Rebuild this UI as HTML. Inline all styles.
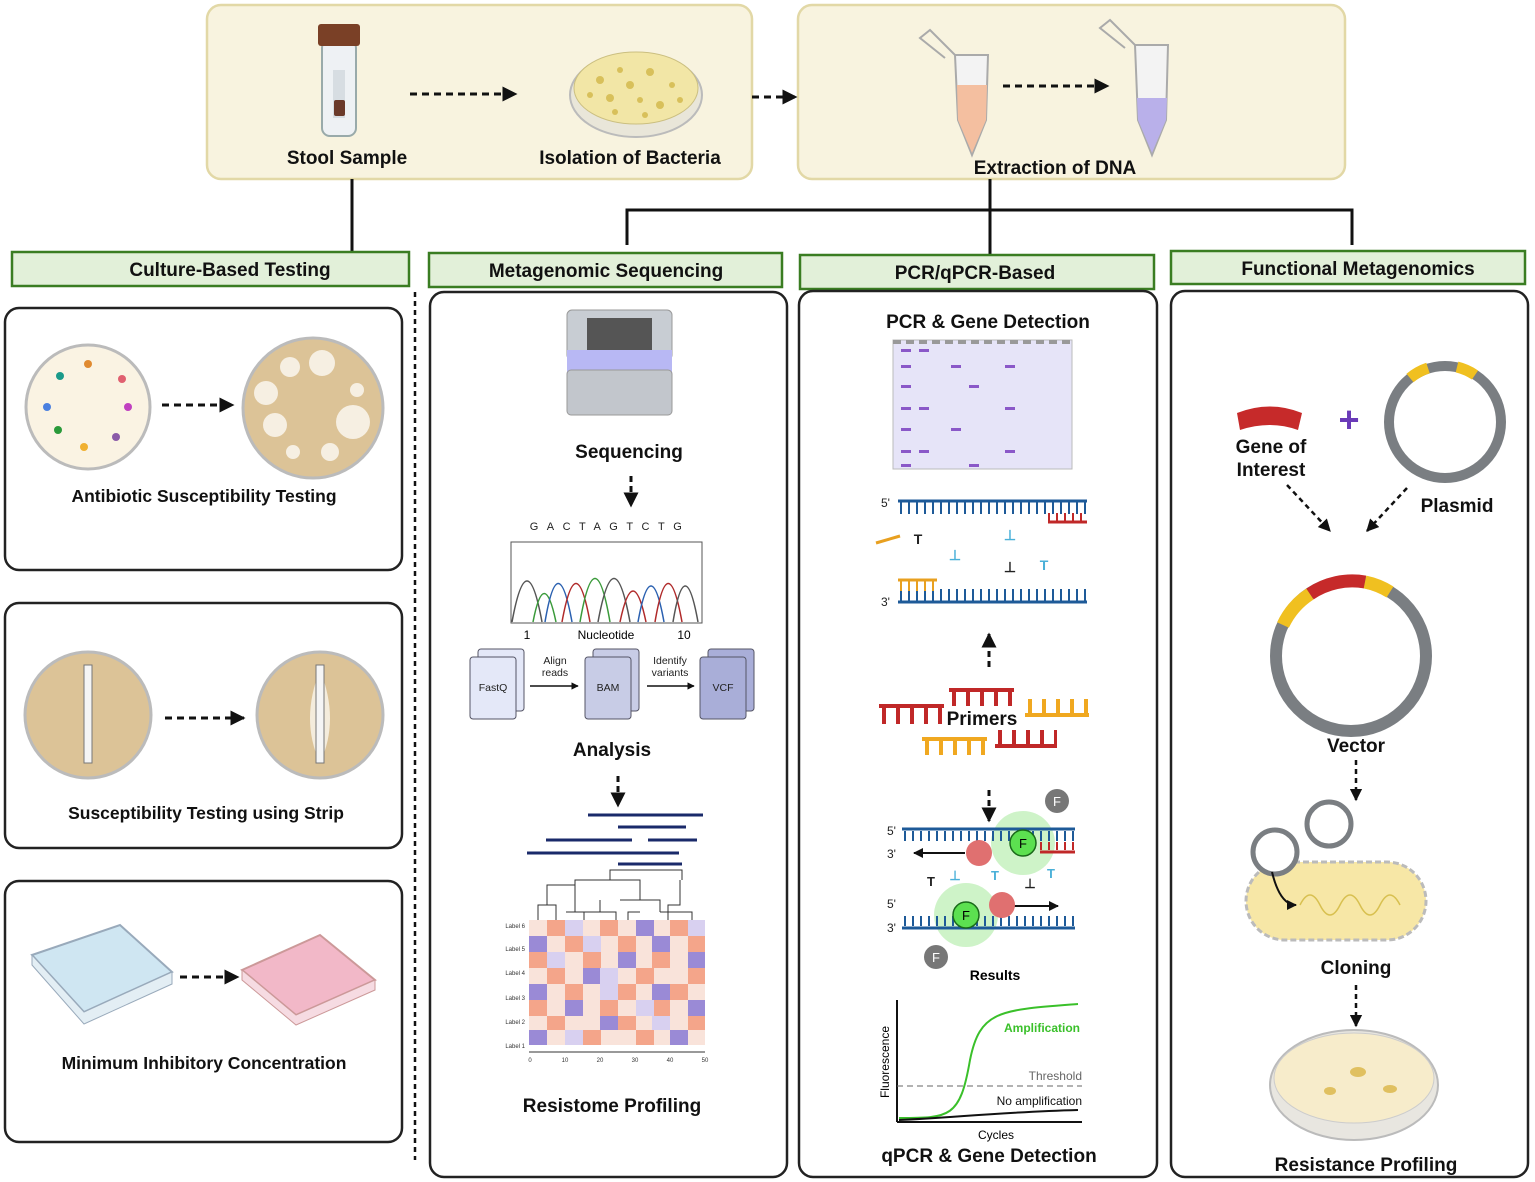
<!DOCTYPE html>
<html><head><meta charset="utf-8"><style>
html,body{margin:0;padding:0;background:#fff}
svg{display:block}
text{font-family:"Liberation Sans",Arial,sans-serif}
.b{font-weight:bold;fill:#111}
</style></head><body>
<svg width="1535" height="1182" viewBox="0 0 1535 1182" xmlns="http://www.w3.org/2000/svg">
<defs>
<marker id="ah" viewBox="0 0 10 10" refX="9" refY="5" markerWidth="5" markerHeight="5" orient="auto"><path d="M0,0L10,5L0,10z" fill="#111"/></marker>
</defs>
<!-- top boxes -->
<rect x="207" y="5" width="545" height="174" rx="14" fill="#f8f3df" stroke="#e2d8a6" stroke-width="2.5"/>
<rect x="798" y="5" width="547" height="174" rx="14" fill="#f8f3df" stroke="#e2d8a6" stroke-width="2.5"/>
<!-- stool tube -->
<rect x="322" y="40" width="34" height="96" rx="8" fill="#eef1f4" stroke="#9aa" stroke-width="2"/>
<rect x="318" y="24" width="42" height="22" rx="3" fill="#7a4026"/>
<rect x="333" y="70" width="12" height="48" fill="#d7dde2"/>
<rect x="334" y="100" width="11" height="16" rx="2" fill="#6b3a2a"/>
<text x="347" y="164" class="b" font-size="19" text-anchor="middle">Stool Sample</text>
<line x1="410" y1="94" x2="516" y2="94" stroke="#111" stroke-width="3" stroke-dasharray="7 5" marker-end="url(#ah)"/>
<!-- petri -->
<ellipse cx="636" cy="95" rx="66" ry="42" fill="#e9e6d9" stroke="#bbb" stroke-width="2"/>
<ellipse cx="636" cy="88" rx="62" ry="36" fill="#f2e6a6" stroke="#cbbf80"/>
<g fill="#d8c05a"><circle cx="600" cy="80" r="4"/><circle cx="620" cy="70" r="3"/><circle cx="650" cy="72" r="4"/><circle cx="672" cy="85" r="3"/><circle cx="610" cy="98" r="4"/><circle cx="640" cy="100" r="3"/><circle cx="660" cy="105" r="4"/><circle cx="590" cy="95" r="3"/><circle cx="630" cy="85" r="4"/><circle cx="680" cy="100" r="3"/><circle cx="615" cy="112" r="3"/><circle cx="645" cy="115" r="3"/></g>
<text x="630" y="164" class="b" font-size="19" text-anchor="middle">Isolation of Bacteria</text>
<line x1="752" y1="97" x2="796" y2="97" stroke="#111" stroke-width="3" stroke-dasharray="7 5" marker-end="url(#ah)"/>
<!-- tubes -->
<path d="M955,55 L988,55 L986,120 L972,155 L958,120 Z" fill="#f3f3f3" stroke="#aaa" stroke-width="2"/>
<path d="M957,85 L987,85 L986,120 L972,153 L958,120 Z" fill="#f4bfa0"/>
<path d="M955,55 L930,30 L920,38 L945,58" fill="none" stroke="#aaa" stroke-width="2"/>
<line x1="1003" y1="86" x2="1108" y2="86" stroke="#111" stroke-width="3" stroke-dasharray="7 5" marker-end="url(#ah)"/>
<path d="M1135,45 L1168,45 L1166,120 L1152,155 L1138,120 Z" fill="#f3f3f3" stroke="#aaa" stroke-width="2"/>
<path d="M1137,98 L1167,98 L1166,120 L1152,153 L1138,120 Z" fill="#b9b0ea"/>
<path d="M1135,45 L1110,20 L1100,28 L1125,48" fill="none" stroke="#aaa" stroke-width="2"/>
<text x="1055" y="174" class="b" font-size="19" text-anchor="middle">Extraction of DNA</text>
<!-- connectors -->
<g stroke="#111" stroke-width="3" fill="none">
<line x1="352" y1="179" x2="352" y2="252"/>
<line x1="990" y1="179" x2="990" y2="255"/>
<polyline points="627,245 627,210 1352,210 1352,245"/>
</g>
<!-- headers -->
<g fill="#e2f0d9" stroke="#3a7d22" stroke-width="2.5">
<rect x="12" y="252" width="397" height="34"/>
<rect x="429" y="253" width="353" height="34"/>
<rect x="800" y="255" width="354" height="34"/>
<rect x="1171" y="251" width="354" height="33"/>
</g>
<g class="b" font-size="19" text-anchor="middle">
<text x="230" y="276" class="b">Culture-Based Testing</text>
<text x="606" y="277" class="b">Metagenomic Sequencing</text>
<text x="975" y="279" class="b">PCR/qPCR-Based</text>
<text x="1358" y="275" class="b">Functional Metagenomics</text>
</g>
<line x1="415" y1="292" x2="415" y2="1160" stroke="#111" stroke-width="2.5" stroke-dasharray="5 4"/>
<!-- panels -->
<g fill="none" stroke="#222" stroke-width="2.5">
<rect x="5" y="308" width="397" height="262" rx="14"/>
<rect x="5" y="603" width="397" height="245" rx="14"/>
<rect x="5" y="881" width="397" height="261" rx="14"/>
<rect x="430" y="292" width="357" height="885" rx="14"/>
<rect x="799" y="291" width="358" height="886" rx="14"/>
<rect x="1171" y="291" width="357" height="886" rx="14"/>
</g>
<!-- culture panel 1 -->
<circle cx="88" cy="407" r="62" fill="#faf3e3" stroke="#bbb" stroke-width="3"/>
<g><circle cx="88" cy="364" r="4" fill="#e08a30"/><circle cx="60" cy="376" r="4" fill="#1a9a8a"/><circle cx="122" cy="379" r="4" fill="#e06070"/><circle cx="47" cy="407" r="4" fill="#4a80e0"/><circle cx="128" cy="407" r="4" fill="#c040c0"/><circle cx="58" cy="430" r="4" fill="#2a9a3a"/><circle cx="116" cy="437" r="4" fill="#8a5aa8"/><circle cx="84" cy="447" r="4" fill="#f0b030"/></g>
<line x1="162" y1="405" x2="233" y2="405" stroke="#111" stroke-width="3" stroke-dasharray="7 5" marker-end="url(#ah)"/>
<circle cx="313" cy="408" r="70" fill="#dcc397" stroke="#bbb" stroke-width="3"/>
<g fill="#f6efe2"><circle cx="290" cy="367" r="10"/><circle cx="322" cy="363" r="13"/><circle cx="266" cy="393" r="12"/><circle cx="357" cy="390" r="7"/><circle cx="275" cy="425" r="12"/><circle cx="353" cy="422" r="17"/><circle cx="293" cy="452" r="7"/><circle cx="330" cy="452" r="9"/></g>
<text x="204" y="502" class="b" font-size="17.5" text-anchor="middle">Antibiotic Susceptibility Testing</text>
<!-- panel 2 -->
<circle cx="88" cy="715" r="63" fill="#dcc397" stroke="#bbb" stroke-width="3"/>
<rect x="84" y="665" width="8" height="98" fill="#f5f5f5" stroke="#777"/>
<line x1="165" y1="718" x2="244" y2="718" stroke="#111" stroke-width="3" stroke-dasharray="7 5" marker-end="url(#ah)"/>
<circle cx="320" cy="715" r="63" fill="#dcc397" stroke="#bbb" stroke-width="3"/>
<path d="M320,670 Q340,720 320,763 Q300,720 320,670Z" fill="#f4ecdc"/>
<rect x="316" y="665" width="8" height="98" fill="#f5f5f5" stroke="#777"/>
<text x="206" y="819" class="b" font-size="17.5" text-anchor="middle">Susceptibility Testing using Strip</text>
<!-- panel 3 -->
<path d="M32,955 L120,925 L172,972 L84,1012 Z" fill="#cfe6f2" stroke="#9ab" stroke-width="2"/>
<path d="M32,955 L32,965 L84,1024 L172,984 L172,972 L84,1012 Z" fill="#e3eef4" stroke="#9ab"/>
<line x1="180" y1="977" x2="238" y2="977" stroke="#111" stroke-width="3" stroke-dasharray="7 5" marker-end="url(#ah)"/>
<path d="M242,970 L320,935 L375,980 L296,1015 Z" fill="#f2b8c8" stroke="#c99" stroke-width="2"/>
<path d="M242,970 L242,980 L296,1025 L375,990 L375,980 L296,1015 Z" fill="#f6dbe2" stroke="#c99"/>
<text x="204" y="1069" class="b" font-size="17.5" text-anchor="middle">Minimum Inhibitory Concentration</text>
<!-- metagenomic -->
<rect x="567" y="310" width="105" height="50" rx="5" fill="#c8cdd3" stroke="#999"/>
<rect x="587" y="318" width="65" height="34" fill="#555"/>
<rect x="567" y="350" width="105" height="25" fill="#b8b8f4"/>
<rect x="567" y="370" width="105" height="45" rx="4" fill="#c2c6cc" stroke="#999"/>
<text x="629" y="458" class="b" font-size="19" text-anchor="middle">Sequencing</text>
<line x1="631" y1="476" x2="631" y2="506" stroke="#111" stroke-width="3" stroke-dasharray="6 4" marker-end="url(#ah)"/>
<text x="610" y="530" font-size="11" text-anchor="middle" letter-spacing="8.5" fill="#222">GACTAGTCTG</text>
<rect x="511" y="542" width="191" height="81" fill="#fff" stroke="#555"/>
<g fill="none" stroke-width="1.5">
<path d="M512,622 Q527,540 542,622" stroke="#555"/><path d="M533,622 Q544,565 556,622" stroke="#3a9a3a"/>
<path d="M545,622 Q558,545 572,622" stroke="#2a60b0"/><path d="M562,622 Q576,545 590,622" stroke="#b02a2a"/>
<path d="M580,622 Q595,535 610,622" stroke="#3a9a3a"/><path d="M598,622 Q614,535 630,622" stroke="#555"/>
<path d="M620,622 Q633,560 646,622" stroke="#b02a2a"/><path d="M638,622 Q651,550 664,622" stroke="#2a60b0"/>
<path d="M655,622 Q668,545 682,622" stroke="#b02a2a"/><path d="M673,622 Q685,550 698,622" stroke="#555"/>
</g>
<text x="527" y="639" font-size="12" text-anchor="middle">1</text>
<text x="606" y="639" font-size="12" text-anchor="middle">Nucleotide</text>
<text x="684" y="639" font-size="12" text-anchor="middle">10</text>
<g stroke="#556" stroke-width="1">
<rect x="478" y="649" width="46" height="62" rx="3" fill="#e4e8f8"/><rect x="470" y="657" width="46" height="62" rx="3" fill="#e4e8f8"/>
<rect x="593" y="649" width="46" height="62" rx="3" fill="#c8cce6"/><rect x="585" y="657" width="46" height="62" rx="3" fill="#c8cce6"/>
<rect x="708" y="649" width="46" height="62" rx="3" fill="#a9aed8"/><rect x="700" y="657" width="46" height="62" rx="3" fill="#a9aed8"/>
</g>
<g font-size="10.5" text-anchor="middle" fill="#222">
<text x="493" y="691">FastQ</text><text x="608" y="691">BAM</text><text x="723" y="691">VCF</text>
<text x="555" y="664">Align</text><text x="555" y="676">reads</text>
<text x="670" y="664">Identify</text><text x="670" y="676">variants</text>
</g>
<line x1="530" y1="686" x2="578" y2="686" stroke="#111" stroke-width="1.5" marker-end="url(#ah)"/>
<line x1="647" y1="686" x2="694" y2="686" stroke="#111" stroke-width="1.5" marker-end="url(#ah)"/>
<text x="612" y="756" class="b" font-size="19" text-anchor="middle">Analysis</text>
<line x1="618" y1="776" x2="618" y2="806" stroke="#111" stroke-width="3" stroke-dasharray="6 4" marker-end="url(#ah)"/>
<g stroke="#1a2a6a" stroke-width="3">
<line x1="588" y1="815" x2="703" y2="815"/><line x1="618" y1="827" x2="686" y2="827"/>
<line x1="546" y1="840" x2="632" y2="840"/><line x1="648" y1="840" x2="697" y2="840"/>
<line x1="527" y1="853" x2="679" y2="853"/><line x1="618" y1="864" x2="682" y2="864"/>
</g>
<g fill="none" stroke="#333" stroke-width="1">
<path d="M538,920 V905 H556 V920 M547,905 V885 H575 V912 M566,912 H584 V920 M575,885 V880 H640 V900 M600,900 V912 H584 M600,912 H616 V920 M620,900 H660 V912 M640,912 H628 V920 M660,912 H692 V920 M680,880 V905 H668 V920 M610,880 V870 H682 V880"/>
</g>
<g>
<rect x="529" y="920" width="176" height="125" fill="#f9e3da"/>
<g fill="#f4a58a">
<rect x="547" y="920" width="18" height="16"/><rect x="600" y="920" width="18" height="16"/><rect x="670" y="920" width="18" height="16"/>
<rect x="565" y="936" width="18" height="16"/><rect x="618" y="936" width="18" height="16"/><rect x="688" y="936" width="17" height="16"/>
<rect x="529" y="952" width="18" height="16"/><rect x="583" y="952" width="18" height="16"/><rect x="652" y="952" width="18" height="16"/>
<rect x="547" y="968" width="18" height="16"/><rect x="636" y="968" width="18" height="16"/><rect x="688" y="968" width="17" height="16"/>
<rect x="565" y="984" width="18" height="16"/><rect x="618" y="984" width="18" height="16"/><rect x="670" y="984" width="18" height="16"/>
<rect x="529" y="1000" width="18" height="16"/><rect x="600" y="1000" width="18" height="16"/><rect x="652" y="1000" width="18" height="16"/>
<rect x="547" y="1016" width="18" height="14"/><rect x="618" y="1016" width="18" height="14"/><rect x="688" y="1016" width="17" height="14"/>
<rect x="583" y="1030" width="18" height="15"/><rect x="636" y="1030" width="18" height="15"/>
</g>
<g fill="#9a8ad6">
<rect x="636" y="920" width="18" height="16"/><rect x="529" y="936" width="18" height="16"/><rect x="652" y="936" width="18" height="16"/>
<rect x="618" y="952" width="18" height="16"/><rect x="688" y="952" width="17" height="16"/><rect x="583" y="968" width="18" height="16"/>
<rect x="529" y="984" width="18" height="16"/><rect x="652" y="984" width="18" height="16"/><rect x="565" y="1000" width="18" height="16"/>
<rect x="688" y="1000" width="17" height="16"/><rect x="600" y="1016" width="18" height="14"/><rect x="529" y="1030" width="18" height="15"/><rect x="670" y="1030" width="18" height="15"/>
</g>
<g fill="#d8d0f0">
<rect x="565" y="920" width="18" height="16"/><rect x="688" y="920" width="17" height="16"/><rect x="583" y="936" width="18" height="16"/>
<rect x="547" y="952" width="18" height="16"/><rect x="600" y="968" width="18" height="16"/><rect x="600" y="984" width="18" height="16"/>
<rect x="636" y="1000" width="18" height="16"/><rect x="565" y="1030" width="18" height="15"/><rect x="652" y="1016" width="18" height="14"/>
</g>
</g>
<g font-size="6" fill="#333" text-anchor="end">
<text x="525" y="928">Label 6</text><text x="525" y="951">Label 5</text><text x="525" y="975">Label 4</text>
<text x="525" y="1000">Label 3</text><text x="525" y="1024">Label 2</text><text x="525" y="1048">Label 1</text>
</g>
<g font-size="6" fill="#333" text-anchor="middle"><text x="530" y="1062">0</text><text x="565" y="1062">10</text><text x="600" y="1062">20</text><text x="635" y="1062">30</text><text x="670" y="1062">40</text><text x="705" y="1062">50</text></g>
<line x1="529" y1="1052" x2="705" y2="1052" stroke="#333"/>
<text x="612" y="1112" class="b" font-size="19" text-anchor="middle">Resistome Profiling</text>
<!-- PCR -->
<text x="988" y="328" class="b" font-size="19" text-anchor="middle">PCR &amp; Gene Detection</text>
<rect x="893" y="340" width="179" height="129" fill="#e6e4f8" stroke="#bbb"/>
<line x1="893" y1="342" x2="1072" y2="342" stroke="#999" stroke-width="4" stroke-dasharray="8 5"/>
<g fill="#8a58c8">
<rect x="901" y="349" width="10" height="3"/><rect x="919" y="349" width="10" height="3"/><rect x="901" y="365" width="10" height="3"/><rect x="951" y="365" width="10" height="3"/><rect x="1005" y="365" width="10" height="3"/>
<rect x="969" y="385" width="10" height="3"/><rect x="901" y="385" width="10" height="3"/><rect x="901" y="407" width="10" height="3"/><rect x="919" y="407" width="10" height="3"/><rect x="1005" y="407" width="10" height="3"/>
<rect x="901" y="428" width="10" height="3"/><rect x="951" y="428" width="10" height="3"/><rect x="901" y="450" width="10" height="3"/><rect x="919" y="450" width="10" height="3"/><rect x="1005" y="450" width="10" height="3"/>
<rect x="901" y="464" width="10" height="3"/><rect x="969" y="464" width="10" height="3"/>
</g>
<g font-size="12" fill="#222"><text x="881" y="507">5'</text><text x="881" y="606">3'</text><text x="887" y="835">5'</text><text x="887" y="858">3'</text><text x="887" y="908">5'</text><text x="887" y="932">3'</text></g>
<line x1="898" y1="501" x2="1087" y2="501" stroke="#1e5a98" stroke-width="3"/>
<line x1="900" y1="508" x2="1087" y2="508" stroke="#1e5a98" stroke-width="12" stroke-dasharray="2 6"/>
<line x1="1048" y1="517" x2="1085" y2="517" stroke="#c02828" stroke-width="8" stroke-dasharray="2 6"/>
<line x1="1048" y1="522" x2="1087" y2="522" stroke="#c02828" stroke-width="3"/>
<line x1="898" y1="602" x2="1087" y2="602" stroke="#1e5a98" stroke-width="3"/>
<line x1="900" y1="595" x2="1087" y2="595" stroke="#1e5a98" stroke-width="12" stroke-dasharray="2 6"/>
<line x1="898" y1="580" x2="937" y2="580" stroke="#e8a020" stroke-width="3"/>
<line x1="900" y1="586" x2="937" y2="586" stroke="#e8a020" stroke-width="10" stroke-dasharray="2 6"/>
<line x1="876" y1="543" x2="900" y2="536" stroke="#e8a020" stroke-width="3"/>
<g font-size="14" font-weight="bold" text-anchor="middle"><text x="918" y="544" fill="#222">T</text><text x="955" y="560" fill="#4ab0d8">⊥</text><text x="1010" y="540" fill="#4ab0d8">⊥</text><text x="1010" y="572" fill="#222">⊥</text><text x="1044" y="570" fill="#4ab0d8">T</text></g>
<line x1="989" y1="667" x2="989" y2="634" stroke="#111" stroke-width="3" stroke-dasharray="6 4" marker-end="url(#ah)"/>
<!-- primers -->
<g fill="#c02828"><rect x="879" y="704" width="65" height="4"/><rect x="949" y="688" width="65" height="4"/><rect x="995" y="744" width="62" height="4"/></g>
<line x1="882" y1="716" x2="944" y2="716" stroke="#c02828" stroke-width="16" stroke-dasharray="4 10"/>
<line x1="952" y1="699" x2="1014" y2="699" stroke="#c02828" stroke-width="14" stroke-dasharray="4 10"/>
<line x1="998" y1="737" x2="1057" y2="737" stroke="#c02828" stroke-width="14" stroke-dasharray="4 10"/>
<g fill="#f0a820"><rect x="1025" y="713" width="64" height="4"/><rect x="922" y="737" width="65" height="4"/></g>
<line x1="1028" y1="706" x2="1089" y2="706" stroke="#f0a820" stroke-width="14" stroke-dasharray="4 10"/>
<line x1="925" y1="748" x2="987" y2="748" stroke="#f0a820" stroke-width="14" stroke-dasharray="4 10"/>
<text x="982" y="725" class="b" font-size="19" text-anchor="middle">Primers</text>
<line x1="989" y1="790" x2="989" y2="821" stroke="#111" stroke-width="3" stroke-dasharray="6 4" marker-end="url(#ah)"/>
<circle cx="1057" cy="801" r="12" fill="#777"/><text x="1057" y="806" font-size="13" fill="#fff" text-anchor="middle">F</text>
<circle cx="1023" cy="843" r="32" fill="#b9eeb0" opacity="0.7"/>
<circle cx="966" cy="915" r="32" fill="#b9eeb0" opacity="0.7"/>
<line x1="902" y1="829" x2="1075" y2="829" stroke="#1e5a98" stroke-width="3"/>
<line x1="904" y1="836" x2="1075" y2="836" stroke="#1e5a98" stroke-width="10" stroke-dasharray="2 6"/>
<line x1="1040" y1="846" x2="1075" y2="846" stroke="#c02828" stroke-width="8" stroke-dasharray="2 6"/>
<line x1="1040" y1="852" x2="1075" y2="852" stroke="#c02828" stroke-width="3"/>
<line x1="965" y1="853" x2="914" y2="853" stroke="#111" stroke-width="2" marker-end="url(#ah)"/>
<circle cx="979" cy="853" r="13" fill="#e07070"/>
<circle cx="1023" cy="843" r="13" fill="#5ce050" stroke="#1a6a1a" stroke-width="1.5"/><text x="1023" y="848" font-size="13" text-anchor="middle">F</text>
<g font-size="13" font-weight="bold" text-anchor="middle"><text x="931" y="886" fill="#222">T</text><text x="955" y="880" fill="#4ab0d8">⊥</text><text x="995" y="880" fill="#4ab0d8">T</text><text x="1030" y="888" fill="#222">⊥</text><text x="1051" y="878" fill="#4ab0d8">T</text></g>
<line x1="902" y1="928" x2="1075" y2="928" stroke="#1e5a98" stroke-width="3"/>
<line x1="904" y1="921" x2="1075" y2="921" stroke="#1e5a98" stroke-width="10" stroke-dasharray="2 6"/>
<line x1="1010" y1="906" x2="1058" y2="906" stroke="#111" stroke-width="2" marker-end="url(#ah)"/>
<circle cx="1002" cy="905" r="13" fill="#e07070"/>
<circle cx="966" cy="915" r="13" fill="#5ce050" stroke="#1a6a1a" stroke-width="1.5"/><text x="966" y="920" font-size="13" text-anchor="middle">F</text>
<circle cx="936" cy="957" r="12" fill="#777"/><text x="936" y="962" font-size="13" fill="#fff" text-anchor="middle">F</text>
<text x="995" y="980" font-size="14" font-weight="bold" text-anchor="middle">Results</text>
<!-- qPCR chart -->
<line x1="897" y1="1000" x2="897" y2="1122" stroke="#111" stroke-width="2"/>
<line x1="897" y1="1122" x2="1082" y2="1122" stroke="#111" stroke-width="2"/>
<line x1="897" y1="1086" x2="1082" y2="1086" stroke="#666" stroke-dasharray="6 4"/>
<path d="M899,1118 C950,1118 960,1118 970,1060 C980,1010 1000,1010 1078,1004" fill="none" stroke="#3ac02a" stroke-width="2"/>
<path d="M899,1120 C950,1118 1000,1112 1078,1110" fill="none" stroke="#111" stroke-width="2"/>
<text x="1042" y="1032" font-size="12" font-weight="bold" fill="#3ac02a" text-anchor="middle">Amplification</text>
<text x="1082" y="1080" font-size="12" fill="#666" text-anchor="end">Threshold</text>
<text x="1082" y="1105" font-size="12" fill="#111" text-anchor="end">No amplification</text>
<text x="996" y="1139" font-size="12" text-anchor="middle">Cycles</text>
<text x="889" y="1062" font-size="12" text-anchor="middle" transform="rotate(-90 889 1062)">Fluorescence</text>
<text x="989" y="1162" class="b" font-size="19" text-anchor="middle">qPCR &amp; Gene Detection</text>
<!-- functional -->
<path d="M1237,413 Q1270,400 1302,413 L1298,430 Q1270,420 1240,430 Z" fill="#c62a2a"/>
<text x="1271" y="453" class="b" font-size="19" text-anchor="middle">Gene of</text>
<text x="1271" y="476" class="b" font-size="19" text-anchor="middle">Interest</text>
<text x="1349" y="432" font-size="36" font-weight="bold" fill="#6a3ab8" text-anchor="middle">+</text>
<circle cx="1445" cy="422" r="56" fill="none" stroke="#7a7e82" stroke-width="10"/>
<path d="M1410,378 A56,56 0 0 1 1428,368" fill="none" stroke="#f0c020" stroke-width="11"/>
<path d="M1457,367 A56,56 0 0 1 1475,375" fill="none" stroke="#f0c020" stroke-width="11"/>
<text x="1457" y="512" class="b" font-size="19" text-anchor="middle">Plasmid</text>
<line x1="1287" y1="485" x2="1330" y2="531" stroke="#111" stroke-width="2.5" stroke-dasharray="5 4" marker-end="url(#ah)"/>
<line x1="1407" y1="488" x2="1367" y2="531" stroke="#111" stroke-width="2.5" stroke-dasharray="5 4" marker-end="url(#ah)"/>
<circle cx="1351" cy="656" r="75" fill="none" stroke="#7a7e82" stroke-width="12"/>
<path d="M1283,625 A75,75 0 0 1 1310,594" fill="none" stroke="#f0c020" stroke-width="13"/>
<path d="M1310,594 A75,75 0 0 1 1365,582" fill="none" stroke="#c62a2a" stroke-width="13"/>
<path d="M1365,582 A75,75 0 0 1 1390,592" fill="none" stroke="#f0c020" stroke-width="13"/>
<text x="1356" y="752" class="b" font-size="19" text-anchor="middle">Vector</text>
<line x1="1356" y1="760" x2="1356" y2="800" stroke="#111" stroke-width="2.5" stroke-dasharray="5 4" marker-end="url(#ah)"/>
<rect x="1246" y="862" width="180" height="78" rx="39" fill="#f7e7a6" stroke="#bbb" stroke-width="3" stroke-dasharray="6 3"/>
<path d="M1300,905 q10,-20 20,0 q10,20 20,0 q10,-20 20,0 q10,20 20,0 q10,-20 20,0" fill="none" stroke="#d8c050" stroke-width="1.5"/>
<circle cx="1275" cy="852" r="22" fill="#fff" stroke="#7a7e82" stroke-width="5"/>
<circle cx="1329" cy="824" r="22" fill="#fff" stroke="#7a7e82" stroke-width="5"/>
<path d="M1272,872 Q1280,905 1296,905" fill="none" stroke="#111" stroke-width="2" marker-end="url(#ah)"/>
<text x="1356" y="974" class="b" font-size="19" text-anchor="middle">Cloning</text>
<line x1="1356" y1="985" x2="1356" y2="1026" stroke="#111" stroke-width="2.5" stroke-dasharray="5 4" marker-end="url(#ah)"/>
<ellipse cx="1354" cy="1085" rx="84" ry="55" fill="#e8e6e0" stroke="#bbb" stroke-width="2"/>
<ellipse cx="1354" cy="1078" rx="80" ry="45" fill="#f7eccb" stroke="#ccc"/>
<ellipse cx="1358" cy="1072" rx="8" ry="5" fill="#e0c060"/><ellipse cx="1330" cy="1091" rx="6" ry="4" fill="#e0c060"/><ellipse cx="1390" cy="1089" rx="7" ry="4" fill="#e0c060"/>
<text x="1366" y="1171" class="b" font-size="19" text-anchor="middle">Resistance Profiling</text>
</svg>
</body></html>
